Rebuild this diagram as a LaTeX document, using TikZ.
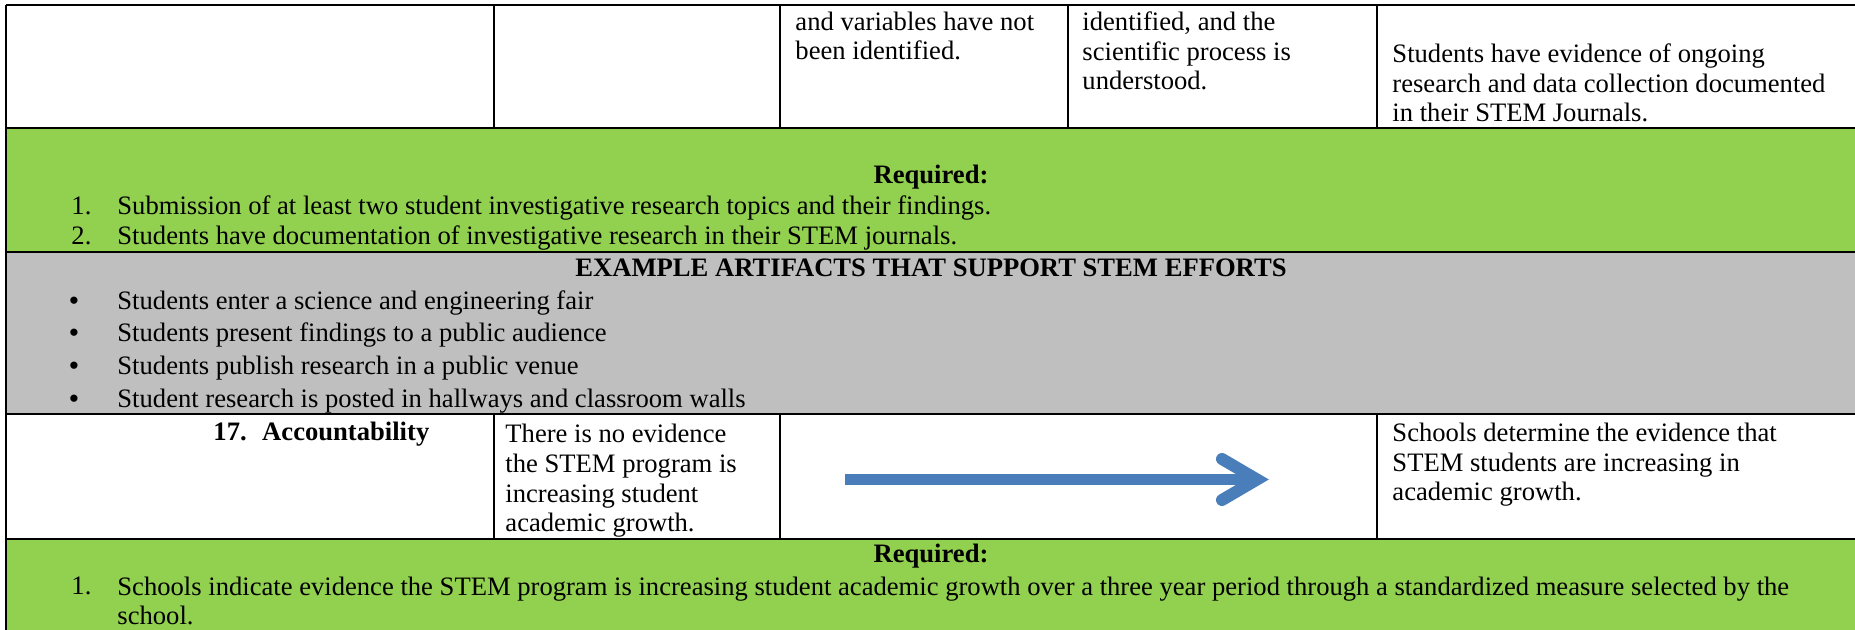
\documentclass[tikz,border=0pt]{standalone}
\usepackage{fontspec}
\setmainfont{Liberation Serif}
\definecolor{reqgreen}{HTML}{92D050}
\definecolor{artgray}{HTML}{BFBFBF}
\definecolor{arrblue}{HTML}{4A7EBB}

\begin{document}
\begin{tikzpicture}[x=0.4509pt,y=-0.4509pt,
		cell/.style={anchor=base west,align=left,font=\fontsize{12}{13.5}\selectfont},
		head/.style={anchor=base,font=\fontsize{12}{13.5}\selectfont\bfseries},
		grid/.style={black,line width=0.8pt},
		bigarrow/.style={arrblue,line width=5.4pt}]
		\tikzstyle{every node}+=[inner sep=0pt]
		\useasboundingbox (0,0) rectangle (1855,630);
		% shaded rows
		\fill [reqgreen] (6,128) rectangle (1855,252);
		\fill [artgray] (6,252) rectangle (1855,414);
		\fill [reqgreen] (6,539) rectangle (1855,630);
		% rules
		\draw [grid] (6,5) -- (1855,5);
		\draw [grid] (6,128) -- (1855,128);
		\draw [grid] (6,252) -- (1855,252);
		\draw [grid] (6,414) -- (1855,414);
		\draw [grid] (6,539) -- (1855,539);
		\draw [grid] (6,5) -- (6,630);
		\foreach \x in {494,780,1068,1377}
			\draw [grid] (\x,5) -- (\x,128);
		\foreach \x in {494,780,1377}
			\draw [grid] (\x,414) -- (\x,539);
		% top row (base = last line)
		\node [cell] (varsText) at (795,60) {and variables have not\\been identified.};
		\node [cell] (procText) at (1082,90) {identified, and the\\scientific process is\\understood.};
		\node [cell] (journText) at (1392,122) {Students have evidence of ongoing\\research and data collection documented\\in their STEM Journals.};
		% required 16
		\node [head] (reqA) at (931,184) {Required:};
		\node [cell] (reqAnumA) at (71,215) {1.};
		\node [cell] (reqAitemA) at (117,215) {Submission of at least two student investigative research topics and their findings.};
		\node [cell] (reqAnumB) at (71,245) {2.};
		\node [cell] (reqAitemB) at (117,245) {Students have documentation of investigative research in their STEM journals.};
		% artifacts
		\node [head] (artHead) at (931,277) {EXAMPLE ARTIFACTS THAT SUPPORT STEM EFFORTS};
		\foreach \y/\t [count=\i] in {310/Students enter a science and engineering fair,
				342/Students present findings to a public audience,
				375/Students publish research in a public venue,
				408/Student research is posted in hallways and classroom walls}{
			\node [head] (artDot\i) at (74,\y) {\textbullet};
			\node [cell] (artItem\i) at (117,\y) {\t};
		}
		% row 17
		\node [cell,font=\fontsize{12}{13.5}\selectfont\bfseries] (accTitle) at (213,441) {17.\hspace{7pt}Accountability};
		\node [cell] (accNone) at (505,532) {There is no evidence\\the STEM program is\\increasing student\\academic growth.};
		\node [cell] (accGoal) at (1392,501) {Schools determine the evidence that\\STEM students are increasing in\\academic growth.};
		\coordinate (arrS) at (845,479.5);
		\coordinate (arrE) at (1257,479.5);
		\draw [bigarrow] (arrS) -- (arrE);
		\draw [bigarrow,line cap=round,miter limit=4] ([shift={(-35,-20.5)}]arrE) -- (arrE) -- ([shift={(-35,20.5)}]arrE);
		% required 17
		\node [head] (reqB) at (931,563) {Required:};
		\node [cell] (reqBnum) at (71,595) {1.};
		\node [cell] (reqBitem) at (117,625) {Schools indicate evidence the STEM program is increasing student academic growth over a three year period through a standardized measure selected by the\\school.};
	\end{tikzpicture}
\end{document}
